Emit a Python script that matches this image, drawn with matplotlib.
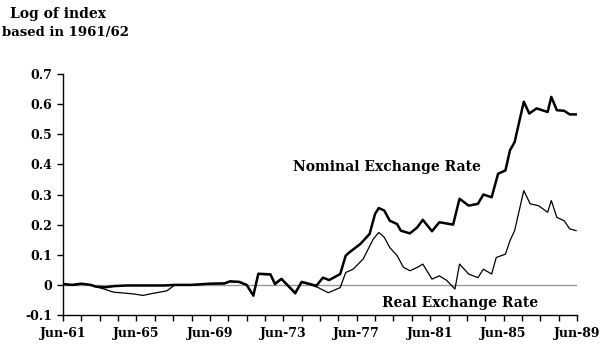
import numpy as np
import matplotlib
matplotlib.use("Agg")
import matplotlib.pyplot as plt
from matplotlib.ticker import FixedLocator

# Log of exchange rate indices (1961/62 = base), decimal years
nominal_t = [1961.5, 1962.0, 1962.5, 1963.0, 1963.3, 1963.8, 1964.3, 1965.0, 1966.0,
             1967.0, 1967.6, 1968.5, 1969.5, 1970.3, 1970.6, 1971.1, 1971.5, 1971.87,
             1972.14, 1972.8, 1973.04, 1973.4, 1974.15, 1974.5, 1975.0, 1975.3,
             1975.66, 1976.0, 1976.6, 1976.9, 1977.1, 1977.7, 1978.2, 1978.5, 1978.7,
             1979.0, 1979.3, 1979.7, 1979.9, 1980.4, 1980.8, 1981.1, 1981.6, 1982.0,
             1982.75, 1983.1, 1983.6, 1984.1, 1984.4, 1984.85, 1985.2, 1985.6,
             1985.85, 1986.1, 1986.6, 1986.9, 1987.3, 1987.9, 1988.1, 1988.4, 1988.8,
             1989.1, 1989.45]
nominal_v = [0.003, 0.0, 0.004, 0.0, -0.006, -0.008, -0.004, -0.002, -0.002,
             -0.002, 0.0, 0.0, 0.004, 0.005, 0.012, 0.01, 0.0, -0.035,
             0.037, 0.035, 0.004, 0.02, -0.027, 0.01, 0.002, -0.003,
             0.024, 0.016, 0.036, 0.097, 0.108, 0.136, 0.169, 0.236, 0.255,
             0.247, 0.213, 0.202, 0.18, 0.171, 0.191, 0.216, 0.178, 0.208,
             0.2, 0.286, 0.263, 0.269, 0.3, 0.291, 0.369, 0.38,
             0.447, 0.474, 0.608, 0.569, 0.586, 0.574, 0.624, 0.58, 0.578,
             0.566, 0.566]

real_t = [1961.5, 1962.0, 1962.5, 1963.0, 1963.3, 1963.8, 1964.24, 1965.33, 1965.87,
          1966.24, 1966.78, 1967.15, 1967.6, 1968.5, 1969.5, 1970.3, 1970.6, 1971.1,
          1971.5, 1971.87, 1972.14, 1972.8, 1973.04, 1973.4, 1974.15, 1974.5, 1975.0,
          1975.4, 1975.95, 1976.6, 1976.9, 1977.3, 1977.85, 1978.4, 1978.7, 1979.0,
          1979.3, 1979.7, 1980.05, 1980.4, 1980.8, 1981.1, 1981.6, 1982.0, 1982.4,
          1982.85, 1983.1, 1983.6, 1984.1, 1984.4, 1984.85, 1985.1, 1985.6, 1985.85,
          1986.1, 1986.6, 1986.95, 1987.4, 1987.9, 1988.1, 1988.4, 1988.8, 1989.1,
          1989.45]
real_v = [0.002, -0.002, 0.003, 0.0, -0.006, -0.015, -0.024, -0.03, -0.035,
          -0.03, -0.024, -0.02, 0.0, 0.0, 0.003, 0.004, 0.01, 0.008,
          0.0, -0.038, 0.035, 0.033, 0.0, 0.018, -0.03, 0.008, 0.0,
          -0.009, -0.026, -0.009, 0.041, 0.052, 0.086, 0.152, 0.174, 0.158,
          0.124, 0.097, 0.058, 0.047, 0.058, 0.069, 0.019, 0.03, 0.015,
          -0.014, 0.069, 0.036, 0.024, 0.052, 0.036, 0.091, 0.102, 0.147,
          0.18, 0.313, 0.269, 0.263, 0.241, 0.28, 0.224, 0.213, 0.186,
          0.18]

tick_years = list(range(1961, 1990, 4))
tick_labels = ["Jun-%02d" % (y % 100) for y in tick_years]
y_ticks = [-0.1, 0.0, 0.1, 0.2, 0.3, 0.4, 0.5, 0.6, 0.7]
y_labels = ["-0.1", "0", "0.1", "0.2", "0.3", "0.4", "0.5", "0.6", "0.7"]

font = "DejaVu Serif"

fig = plt.figure(figsize=(6.0, 3.46), dpi=100)
ax = fig.add_axes([0.105, 0.0896, 0.8567, 0.6964])

ax.axhline(0, color="#999999", lw=1.0, zorder=1)
ax.plot(real_t, real_v, color="black", lw=0.9, zorder=2)
ax.plot(nominal_t, nominal_v, color="black", lw=1.8, zorder=3)

ax.set_xlim(1961.5, 1989.5)
ax.set_ylim(-0.1, 0.7)
ax.xaxis.set_major_locator(FixedLocator([y + 0.5 for y in tick_years]))
ax.xaxis.set_minor_locator(FixedLocator([y + 0.5 for y in range(1961, 1990)]))
ax.set_xticklabels(tick_labels)
ax.set_yticks(y_ticks)
ax.set_yticklabels(y_labels)

ax.tick_params(axis="both", which="both", direction="out", length=4, width=1,
               labelsize=9)
ax.tick_params(axis="x", pad=5)
for lab in ax.get_xticklabels() + ax.get_yticklabels():
    lab.set_fontfamily(font)
    lab.set_fontweight("bold")

for side in ("top", "right"):
    ax.spines[side].set_visible(False)
for side in ("left", "bottom"):
    ax.spines[side].set_linewidth(1.0)

ax.text(1974.05, 0.39, "Nominal Exchange Rate", fontsize=10, fontfamily=font,
        fontweight="bold", va="center", ha="left")
ax.text(1978.9, -0.06, "Real Exchange Rate", fontsize=10, fontfamily=font,
        fontweight="bold", va="center", ha="left")

# axis title in two lines above the value axis
fig.text(10 / 600, 0.98, "Log of index", fontsize=10, fontfamily=font,
         fontweight="bold", va="top", ha="left")
fig.text(2 / 600, 0.926, "based in 1961/62", fontsize=9.5, fontfamily=font,
         fontweight="bold", va="top", ha="left")

fig.savefig("out.png", dpi=100)
